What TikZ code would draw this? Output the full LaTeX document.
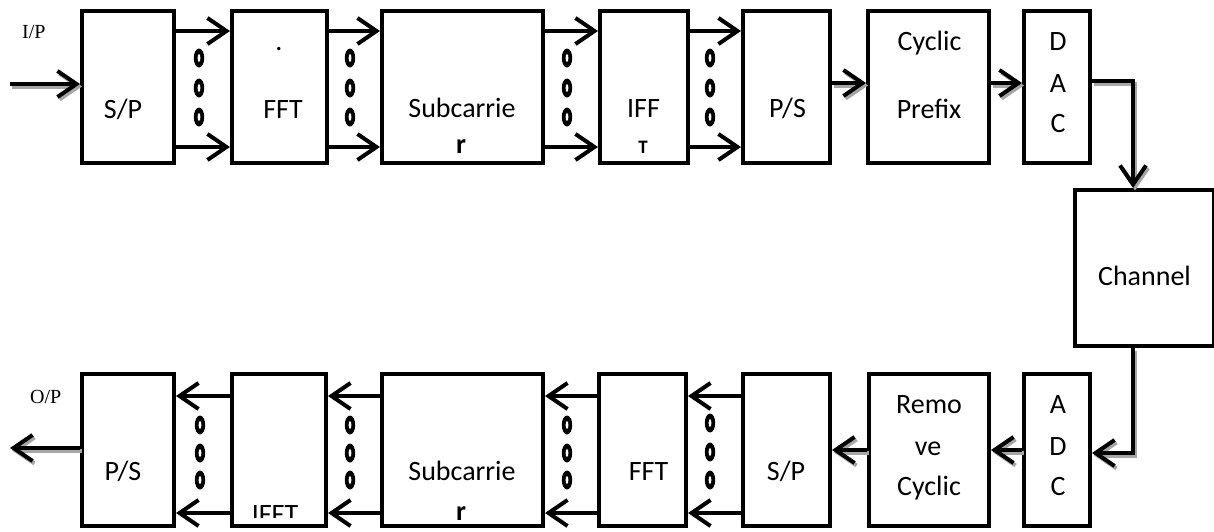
\documentclass[tikz,border=0pt]{standalone}
\usepackage{fontspec}
\setmainfont{Carlito}
\newfontfamily\tnr{Liberation Serif}
\usetikzlibrary{arrows.meta}
\begin{document}
\begin{tikzpicture}[x=1pt,y=-1pt,
  box/.style={draw,line width=4pt,minimum height=152pt,inner sep=0pt},
  txt/.style={font=\fontsize{28}{30}\selectfont,anchor=base,inner sep=0pt},
  lbl/.style={font=\tnr\fontsize{20}{22}\selectfont,anchor=base west,inner sep=0pt},
  arr/.style={line width=4pt,-{Straight Barb[length=19pt,width=26pt]}},
  sarr/.style={arr,preaction={draw=gray!70,line width=4pt,transform canvas={shift={(2pt,-2.5pt)}}}}]
\useasboundingbox (0,0) rectangle (1214,531);
% top row
\node[box,minimum width=92pt]  (sp1)   at (128,87) {};
\node[box,minimum width=95pt]  (fft1)  at (279.5,87) {};
\node[box,minimum width=161pt] (sub1)  at (462.5,87) {};
\node[box,minimum width=88pt]  (ifft1) at (644,87) {};
\node[box,minimum width=87pt]  (ps1)   at (786.5,87) {};
\node[box,minimum width=121pt] (cp1)   at (928.5,87) {};
\node[box,minimum width=66pt]  (dac1)  at (1057,87) {};
% channel
\node[box,minimum width=139pt,minimum height=156pt] (ch) at (1144.5,268) {};
% bottom row
\node[box,minimum width=92pt]  (ps2)   at (128,450) {};
\node[box,minimum width=94pt]  (ifft2) at (279,450) {};
\node[box,minimum width=161pt] (sub2)  at (462.5,450) {};
\node[box,minimum width=87pt]  (fft2)  at (642.5,450) {};
\node[box,minimum width=87pt]  (sp2)   at (786.5,450) {};
\node[box,minimum width=120pt] (rc2)   at (929,450) {};
\node[box,minimum width=66pt]  (adc2)  at (1057,450) {};
% texts top
\node[txt] (tsp1) at (123,118) {S/P};
\node[txt] (tdot) at (279,50) {.};
\node[txt] (tfft1) at (283,118) {FFT};
\node[txt] (tsub1) at (462,117) {Subcarrie};
\node[txt,font=\bfseries\fontsize{28}{30}\selectfont] (tr1) at (461,153) {r};
\node[txt] (tifft1) at (643.5,117) {IFF};
\node[txt,font=\bfseries\fontsize{19}{20}\selectfont] (tt1) at (643,153) {T};
\node[txt] (tps1) at (787.5,117) {P/S};
\node[txt] (tcp1a) at (929.5,50) {Cyclic};
\node[txt] (tcp1b) at (929,118) {Prefix};
\node[txt] (td) at (1058,50) {D};
\node[txt] (ta) at (1058,92) {A};
\node[txt] (tc) at (1058,132) {C};
\node[txt] (tch) at (1144.5,285) {Channel};
% texts bottom
\node[txt] (tps2) at (123,480) {P/S};
\begin{scope}
\clip (232,372) rectangle (326,517.5);
\node[txt] (tifft2) at (275,523) {IFFT};
\end{scope}
\node[txt] (tsub2) at (462,480) {Subcarrie};
\node[txt,font=\bfseries\fontsize{28}{30}\selectfont] (tr2) at (461,520) {r};
\node[txt] (tfft2) at (648.5,480) {FFT};
\node[txt] (tsp2) at (786,480) {S/P};
\node[txt] (trc2a) at (929,413) {Remo};
\node[txt] (trc2b) at (928,455) {ve};
\node[txt] (trc2c) at (929,495) {Cyclic};
\node[txt] (ta2) at (1058,413) {A};
\node[txt] (td2) at (1058,455) {D};
\node[txt] (tc2) at (1058,495) {C};
% labels
\node[lbl] (ip) at (22,38) {I/P};
\node[lbl] (op) at (30,403) {O/P};
% parallel arrows top
\foreach \a/\b in {sp1/fft1,fft1/sub1,sub1/ifft1,ifft1/ps1}{
  \draw[arr] (\a.east |- 0,31) -- (\b.west |- 0,31);
  \draw[arr] (\a.east |- 0,147) -- (\b.west |- 0,147);
}
% parallel arrows bottom
\foreach \a/\b in {ifft2/ps2,sub2/ifft2,fft2/sub2,sp2/fft2}{
  \draw[arr] (\a.west |- 0,396) -- (\b.east |- 0,396);
  \draw[arr] (\a.west |- 0,513) -- (\b.east |- 0,513);
}
% dots
\foreach \x/\y in {199/58,199/88,199/117,350/58,350/88,350/117,567/58,567/88,567/117,710/58,710/88,710/117,
                   200/425,200/453,200/480,350/425,350/453,350/480,567/425,567/453,567/480,710/423,710/452,710/480}{
  \fill[black] (\x,\y) ellipse [x radius=5.2,y radius=9.5];
  \fill[white] (\x,\y) ellipse [x radius=1.4,y radius=4];
}
% single arrows
\coordinate (in) at (10,84);
\coordinate (out) at (10,448);
\coordinate (t1) at (1133,81);
\coordinate (t2) at (1133,453);
\draw[sarr] (in) -- (in -| sp1.west);
\draw[sarr] (ps1.east |- 0,83) -- (cp1.west |- 0,83);
\draw[sarr] (cp1.east |- 0,83) -- (dac1.west |- 0,83);
\draw[sarr] (dac1.east |- t1) -- (t1) -- (t1 |- ch.north);
\draw[sarr] (t2 |- ch.south) -- (t2) -- (t2 -| adc2.east);
\draw[sarr] (adc2.west |- 0,450) -- (rc2.east |- 0,450);
\draw[sarr] (rc2.west |- 0,450) -- (sp2.east |- 0,450);
\draw[sarr] (ps2.west |- out) -- (out);
\end{tikzpicture}
\end{document}
